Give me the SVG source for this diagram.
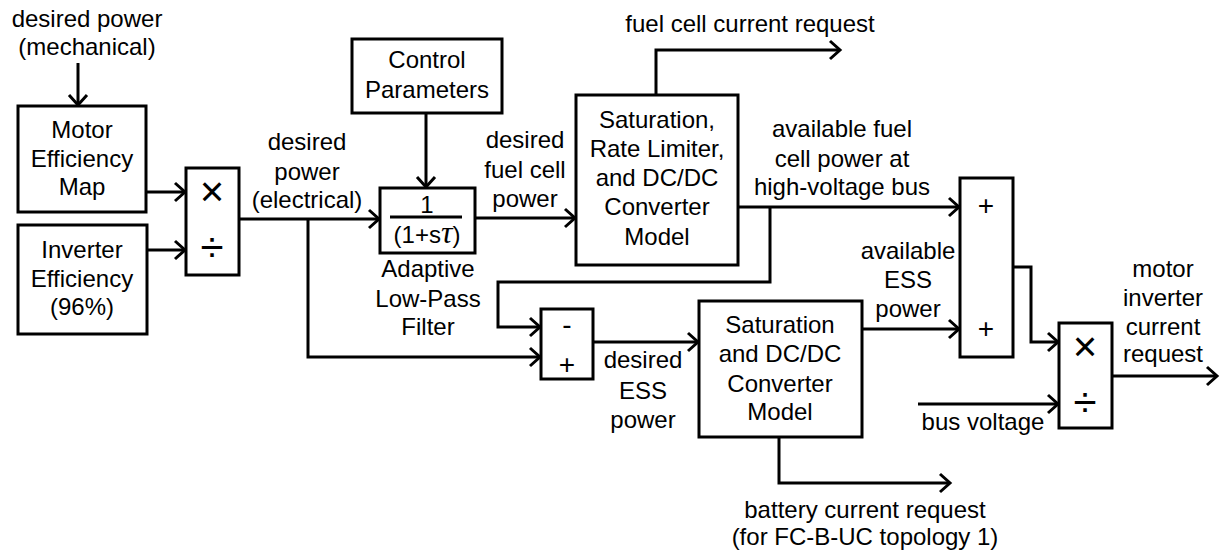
<svg xmlns="http://www.w3.org/2000/svg" width="1220" height="556" viewBox="0 0 1220 556">
<style>
.box{fill:#fff;stroke:#000;stroke-width:3}
.ln{fill:none;stroke:#000;stroke-width:3;stroke-linejoin:miter}
.ar{marker-end:url(#arr)}
text{font-family:"Liberation Sans",Arial,sans-serif;font-size:24px;fill:#000;text-anchor:middle}
.sym{font-size:42px}
.pm{font-size:28px}
</style>
<defs>
<marker id="arr" markerUnits="userSpaceOnUse" viewBox="-13 -11 15 22" markerWidth="15" markerHeight="22" refX="0" refY="0" orient="auto" overflow="visible">
<path d="M-10,-9 L0,0 L-10,9" fill="none" stroke="#000" stroke-width="3"/>
</marker>
</defs>
<rect width="1220" height="556" fill="#fff"/>
<g id="connectors">
<path class="ln ar" d="M78,63 V105"/>
<path class="ln ar" d="M146,192 H185"/>
<path class="ln ar" d="M147,250 H185"/>
<path class="ln ar" d="M239,219 H379"/>
<path class="ln ar" d="M308,219 V357 H540"/>
<path class="ln ar" d="M426,113 V187"/>
<path class="ln ar" d="M475,218 H575"/>
<path class="ln ar" d="M656,95 V50 H840"/>
<path class="ln ar" d="M738,207 H959"/>
<path class="ln ar" d="M770,207 V282 H498 V327 H540"/>
<path class="ln ar" d="M593,342 H698"/>
<path class="ln ar" d="M862,329 H959"/>
<path class="ln ar" d="M779,437 V483 H950"/>
<path class="ln ar" d="M1013,267 H1031 V342 H1058"/>
<path class="ln ar" d="M918,404 H1058"/>
<path class="ln ar" d="M1112,376 H1217"/>
</g>
<g id="lbl-desired-mech">
<text x="87" y="27">desired power</text>
<text x="87" y="55">(mechanical)</text>
</g>
<g id="motor-eff">
<rect class="box" x="18" y="106" width="128" height="106"/>
<text x="82" y="138">Motor</text>
<text x="82" y="167">Efficiency</text>
<text x="82" y="195">Map</text>
</g>
<g id="inverter-eff">
<rect class="box" x="18" y="225" width="129" height="109"/>
<text x="82" y="258">Inverter</text>
<text x="82" y="287">Efficiency</text>
<text x="82" y="315">(96%)</text>
</g>
<g id="muldiv1">
<rect class="box" x="186" y="168" width="53" height="107"/>
<text class="sym" x="212" y="206">×</text>
<text class="sym" x="212" y="262">÷</text>
</g>
<g id="lbl-desired-elec">
<text x="307" y="150">desired</text>
<text x="307" y="180">power</text>
<text x="307" y="208">(electrical)</text>
</g>
<g id="control-params">
<rect class="box" x="352" y="39" width="150" height="74"/>
<text x="427" y="68">Control</text>
<text x="427" y="98">Parameters</text>
</g>
<g id="lpf">
<rect class="box" x="380" y="188" width="95" height="65"/>
<text x="427" y="213">1</text>
<line class="ln" x1="390" y1="217" x2="462" y2="217" stroke-width="2"/>
<text x="427" y="243">(1+s<tspan font-family="Liberation Serif,serif" font-style="italic" font-size="32">τ</tspan>)</text>
<text x="428" y="277">Adaptive</text>
<text x="428" y="307">Low-Pass</text>
<text x="428" y="335">Filter</text>
</g>
<g id="lbl-desired-fc">
<text x="525" y="148">desired</text>
<text x="525" y="178">fuel cell</text>
<text x="525" y="207">power</text>
</g>
<g id="sat1">
<rect class="box" x="576" y="95" width="162" height="170"/>
<text x="657" y="128">Saturation,</text>
<text x="657" y="157">Rate Limiter,</text>
<text x="657" y="186">and DC/DC</text>
<text x="657" y="215">Converter</text>
<text x="657" y="245">Model</text>
</g>
<g id="lbl-fc-current">
<text x="750" y="32">fuel cell current request</text>
</g>
<g id="lbl-avail-fc">
<text x="842" y="137">available fuel</text>
<text x="842" y="167">cell power at</text>
<text x="842" y="195">high-voltage bus</text>
</g>
<g id="sumdiff">
<rect class="box" x="541" y="309" width="52" height="70"/>
<text class="pm" x="567" y="334">-</text>
<text class="pm" x="567" y="374">+</text>
</g>
<g id="lbl-desired-ess">
<text x="643" y="368">desired</text>
<text x="643" y="399">ESS</text>
<text x="643" y="428">power</text>
</g>
<g id="sat2">
<rect class="box" x="699" y="301" width="163" height="136"/>
<text x="780" y="333">Saturation</text>
<text x="780" y="362">and DC/DC</text>
<text x="780" y="392">Converter</text>
<text x="780" y="420">Model</text>
</g>
<g id="lbl-battery">
<text x="865" y="518">battery current request</text>
<text x="865" y="545">(for FC-B-UC topology 1)</text>
</g>
<g id="lbl-avail-ess">
<text x="908" y="259">available</text>
<text x="908" y="288">ESS</text>
<text x="908" y="317">power</text>
</g>
<g id="sum">
<rect class="box" x="960" y="178" width="53" height="179"/>
<text class="pm" x="986" y="215">+</text>
<text class="pm" x="986" y="338">+</text>
</g>
<g id="muldiv2">
<rect class="box" x="1059" y="323" width="53" height="105"/>
<text class="sym" x="1085" y="361">×</text>
<text class="sym" x="1085" y="417">÷</text>
</g>
<g id="lbl-bus-voltage">
<text x="983" y="430">bus voltage</text>
</g>
<g id="lbl-motor-inv">
<text x="1163" y="277">motor</text>
<text x="1163" y="306">inverter</text>
<text x="1163" y="335">current</text>
<text x="1163" y="362">request</text>
</g>
</svg>
